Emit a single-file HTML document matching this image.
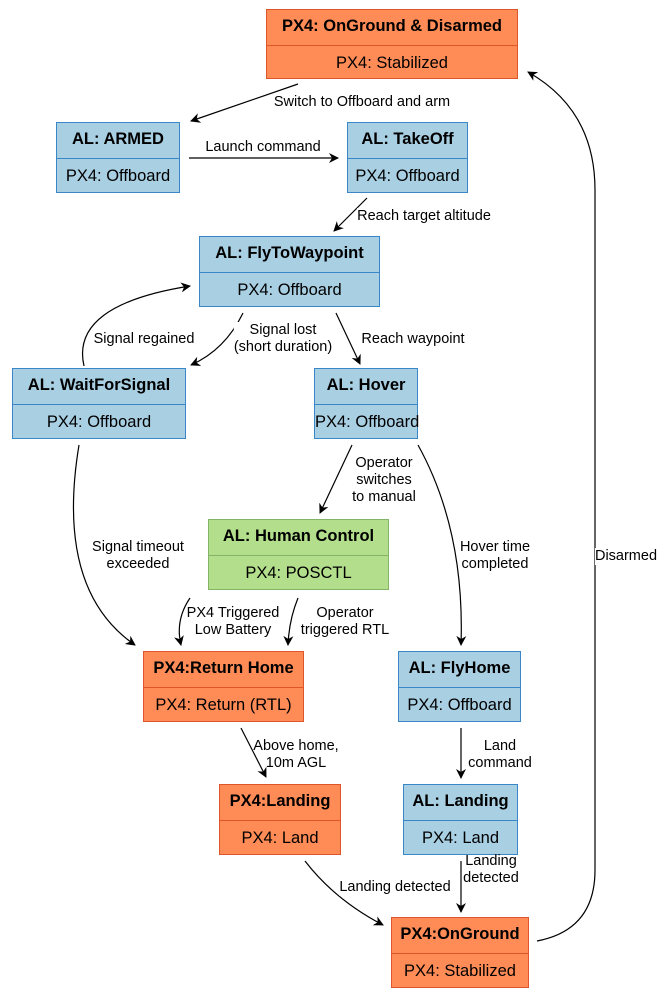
<!DOCTYPE html>
<html><head><style>
body{margin:0;width:663px;height:997px;background:#fff;position:relative;overflow:hidden;font-family:"Liberation Sans",Arial,sans-serif}
.b{position:absolute;box-sizing:border-box;border:1.5px solid #3a87c8;background:#a9cfe3;color:#000}
.b .t{height:35px;line-height:33px;text-align:center;font-weight:bold;font-size:16.5px;border-bottom:1.5px solid #3a87c8;white-space:nowrap}
.b .s{text-align:center;font-size:16.5px;line-height:34px;white-space:nowrap}
.o{background:#ff8c57;border-color:#e0552b}.o .t{border-color:#e0552b}
.g{background:#b3de8b;border-color:#82b366}.g .t{border-color:#82b366}
.l{position:absolute;font-size:14.5px;line-height:17px;text-align:center;background:#fff;white-space:nowrap;transform:translate(-50%,2px)}
svg{position:absolute;left:0;top:0}
</style></head><body>
<svg width="663" height="997">
<defs><marker id="a" markerWidth="10" markerHeight="10" refX="9" refY="5" orient="auto" markerUnits="userSpaceOnUse"><path d="M0,0 L10,5 L0,10 L3,5z" fill="#000"/></marker></defs>
<g fill="none" stroke="#000" stroke-width="1.2" marker-end="url(#a)">
<path d="M298,84 L191,121"/>
<path d="M189,158 L338,158"/>
<path d="M367,198 L334,231"/>
<path d="M243,313 Q225,350 191,365"/>
<path d="M84,366 Q70,305 190,286"/>
<path d="M336,313 L360,364"/>
<path d="M352,445 L320,513"/>
<path d="M418,445 Q465,530 461,645"/>
<path d="M79,445 Q55,590 135,645"/>
<path d="M190,598 Q175,620 181,645"/>
<path d="M298,598 Q289,620 288,645"/>
<path d="M241,728 L266,777"/>
<path d="M461,728 L461,778"/>
<path d="M305,861 Q335,900 383,925"/>
<path d="M461,861 L461,912"/>
<path d="M537,941 Q595,930 595,870 L595,190 Q595,110 528,72"/>
</g>
</svg>
<div class="b o" style="left:266px;top:9px;width:252px;height:70px"><div class="t">PX4: OnGround &amp; Disarmed</div><div class="s">PX4: Stabilized</div></div>
<div class="b" style="left:56px;top:122px;width:124px;height:71px"><div class="t">AL: ARMED</div><div class="s">PX4: Offboard</div></div>
<div class="b" style="left:347px;top:122px;width:121px;height:71px"><div class="t">AL: TakeOff</div><div class="s">PX4: Offboard</div></div>
<div class="b" style="left:199px;top:236px;width:181px;height:71px"><div class="t">AL: FlyToWaypoint</div><div class="s">PX4: Offboard</div></div>
<div class="b" style="left:12px;top:368px;width:174px;height:71px"><div class="t">AL: WaitForSignal</div><div class="s">PX4: Offboard</div></div>
<div class="b" style="left:314px;top:368px;width:104px;height:71px"><div class="t">AL: Hover</div><div class="s">PX4: Offboard</div></div>
<div class="b g" style="left:208px;top:519px;width:181px;height:71px"><div class="t">AL: Human Control</div><div class="s">PX4: POSCTL</div></div>
<div class="b o" style="left:143px;top:651px;width:161px;height:71px"><div class="t">PX4:Return Home</div><div class="s">PX4: Return (RTL)</div></div>
<div class="b" style="left:398px;top:651px;width:123px;height:71px"><div class="t">AL: FlyHome</div><div class="s">PX4: Offboard</div></div>
<div class="b o" style="left:219px;top:784px;width:122px;height:71px"><div class="t">PX4:Landing</div><div class="s">PX4: Land</div></div>
<div class="b" style="left:403px;top:784px;width:115px;height:71px"><div class="t">AL: Landing</div><div class="s">PX4: Land</div></div>
<div class="b o" style="left:391px;top:917px;width:138px;height:71px"><div class="t">PX4:OnGround</div><div class="s">PX4: Stabilized</div></div>

<div class="l" style="left:362px;top:92px">Switch to Offboard and arm</div>
<div class="l" style="left:263px;top:137px">Launch command</div>
<div class="l" style="left:424px;top:206px">Reach target altitude</div>
<div class="l" style="left:283px;top:320px">Signal lost<br>(short duration)</div>
<div class="l" style="left:144px;top:329px">Signal regained</div>
<div class="l" style="left:413px;top:329px">Reach waypoint</div>
<div class="l" style="left:384px;top:453px">Operator<br>switches<br>to manual</div>
<div class="l" style="left:495px;top:537px">Hover time<br>completed</div>
<div class="l" style="left:138px;top:537px">Signal timeout<br>exceeded</div>
<div class="l" style="left:233px;top:603px">PX4 Triggered<br>Low Battery</div>
<div class="l" style="left:345px;top:603px">Operator<br>triggered RTL</div>
<div class="l" style="left:296px;top:736px;background:transparent">Above home,<br>10m AGL</div>
<div class="l" style="left:500px;top:736px">Land<br>command</div>
<div class="l" style="left:395px;top:877px">Landing detected</div>
<div class="l" style="left:491px;top:851px;background:transparent">Landing<br>detected</div>
<div class="l" style="left:626px;top:546px">Disarmed</div>
</body></html>
